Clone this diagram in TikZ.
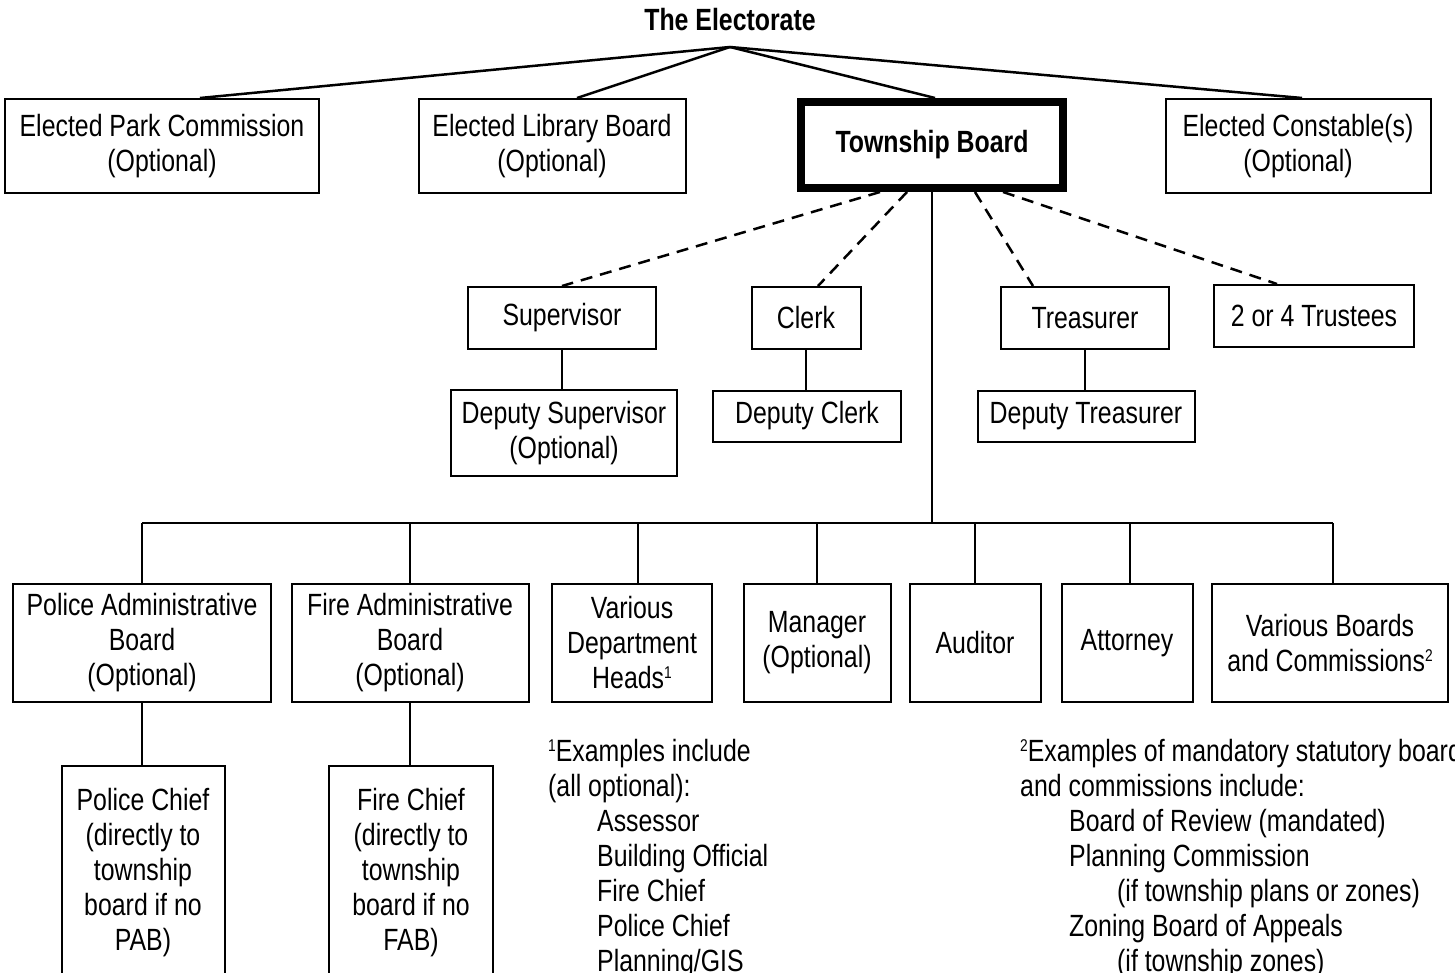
\documentclass[tikz,border=0pt]{standalone}
\usepackage{fontspec}
\setmainfont[FakeStretch=0.81]{Liberation Sans}
\newcommand{\fnmark}[1]{\raisebox{10pt}{\fontsize{17}{17}\selectfont #1}}

\begin{document}
\begin{tikzpicture}[x=1pt, y=-1pt,
    every node/.style={font=\fontsize{30.7}{35}\selectfont},
    box/.style={draw, line width=2pt, align=center, inner sep=0pt},
    link/.style={line width=2.5pt},
    dlink/.style={line width=2.5pt, dash pattern=on 12pt off 8pt}]
      \useasboundingbox (0,0) rectangle (1455,973);
      \clip (0,0) rectangle (1455,973);
      % top level
      \node at (730,20) (elect){\textbf{The Electorate}};
      \coordinate (epoint) at (730,47);
      \node at (162,146)[box,minimum width=314pt,minimum height=94pt] (park){Elected Park Commission\\(Optional)};
      \node at (552,146)[box,minimum width=267pt,minimum height=94pt] (library){Elected Library Board\\(Optional)};
      \node at (932,145)[box,line width=8pt,minimum width=262pt,minimum height=86pt] (board){\textbf{Township Board}};
      \node at (1298,146)[box,minimum width=265pt,minimum height=94pt] (constable){Elected Constable(s)\\(Optional)};
      \draw[link] (epoint) -- ([xshift=38pt]park.north);
      \draw[link] (epoint) -- ([xshift=25pt]library.north);
      \draw[link] (epoint) -- ([xshift=3pt]board.north);
      \draw[link] (epoint) -- ([xshift=4pt]constable.north);
      % officers
      \node at (562,318)[box,minimum width=188pt,minimum height=62pt] (sup){Supervisor};
      \node at (806,318)[box,minimum width=109pt,minimum height=62pt] (clerk){Clerk};
      \node at (1085,318)[box,minimum width=168pt,minimum height=62pt] (treas){Treasurer};
      \node at (1314,316)[box,minimum width=200pt,minimum height=62pt] (trust){2 or 4 Trustees};
      \draw[dlink] ([xshift=-52pt]board.south) -- (sup.north);
      \draw[dlink] ([xshift=-25pt]board.south) -- ([xshift=12pt]clerk.north);
      \draw[dlink] ([xshift=43pt]board.south) -- ([xshift=-52pt]treas.north);
      \draw[dlink] ([xshift=71pt]board.south) -- ([xshift=-37pt]trust.north);
      % deputies
      \node at (564,433)[box,minimum width=226pt,minimum height=86pt] (depsup){Deputy Supervisor\\(Optional)};
      \node at (807,416)[box,minimum width=188pt,minimum height=51pt] (depclerk){Deputy Clerk};
      \node at (1086,416)[box,minimum width=217pt,minimum height=51pt] (deptreas){Deputy Treasurer};
      \draw[link] (sup.south) -- (sup.south |- depsup.north);
      \draw[link] (clerk.south) -- (clerk.south |- depclerk.north);
      \draw[link] (treas.south) -- (treas.south |- deptreas.north);
      % appointed
      \coordinate (bus) at (932,523);
      \draw[link] (board.south) -- (bus);
      \node at (142,643)[box,minimum width=258pt,minimum height=118pt] (pab){Police Administrative\\Board\\(Optional)};
      \node at (410,643)[box,minimum width=237pt,minimum height=118pt] (fab){Fire Administrative\\Board\\(Optional)};
      \node at (632,643)[box,minimum width=160pt,minimum height=118pt] (heads){Various\\Department\\Heads\fnmark{1}};
      \node at (817,643)[box,minimum width=147pt,minimum height=118pt] (manager){Manager\\(Optional)};
      \node at (975,643)[box,minimum width=131pt,minimum height=118pt] (auditor){Auditor};
      \node at (1127,643)[box,minimum width=131pt,minimum height=118pt] (attorney){Attorney};
      \node at (1330,643)[box,minimum width=236pt,minimum height=118pt] (boards){Various Boards\\and Commissions\fnmark{2}};
      \draw[link] (pab.north |- bus) -- ([xshift=3pt]boards.north |- bus);
      \foreach \n in {pab,fab,manager,auditor}
        \draw[link] (\n.north) -- (\n.north |- bus);
      \draw[link] ([xshift=6pt]heads.north) -- ([xshift=6pt]heads.north |- bus);
      \draw[link] ([xshift=3pt]attorney.north) -- ([xshift=3pt]attorney.north |- bus);
      \draw[link] ([xshift=3pt]boards.north) -- ([xshift=3pt]boards.north |- bus);
      % chiefs
      \node at (143,873)[box,minimum width=163pt,minimum height=214pt] (pchief){Police Chief\\(directly to\\township\\board if no\\PAB)};
      \node at (411,873)[box,minimum width=164pt,minimum height=214pt] (fchief){Fire Chief\\(directly to\\township\\board if no\\FAB)};
      \draw[link] (pab.south) -- (pab.south |- pchief.north);
      \draw[link] (fab.south) -- (fab.south |- fchief.north);
      % footnotes
      \node at (548,739)[anchor=north west,align=left,inner sep=0pt] (note1){\fnmark{1}Examples include\\(all optional):\\\hspace*{49pt}Assessor\\\hspace*{49pt}Building Official\\\hspace*{49pt}Fire Chief\\\hspace*{49pt}Police Chief\\\hspace*{49pt}Planning/GIS};
      \node at (1020,739)[anchor=north west,align=left,inner sep=0pt] (note2){\fnmark{2}Examples of mandatory statutory boards\\and commissions include:\\\hspace*{49pt}Board of Review (mandated)\\\hspace*{49pt}Planning Commission\\\hspace*{97pt}(if township plans or zones)\\\hspace*{49pt}Zoning Board of Appeals\\\hspace*{97pt}(if township zones)};
\end{tikzpicture}
\end{document}
